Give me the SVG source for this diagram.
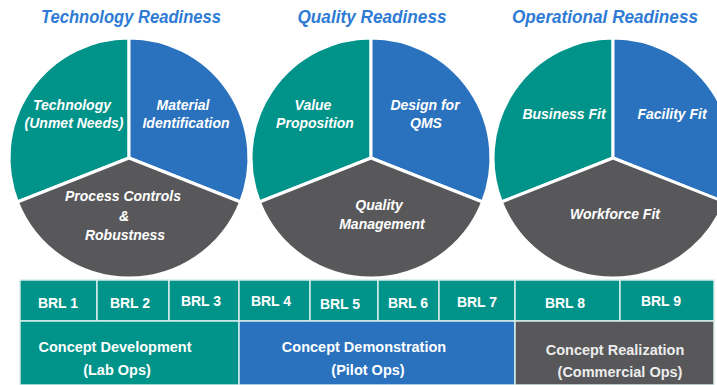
<svg xmlns="http://www.w3.org/2000/svg" width="717" height="385" viewBox="0 0 717 385">
<style>
.title{font-family:"Liberation Sans",Arial,sans-serif;font-weight:bold;font-style:italic;font-size:18px;fill:#2E7BD6;text-anchor:middle}
.sl{font-family:"Liberation Sans",Arial,sans-serif;font-weight:bold;font-style:italic;font-size:14px;fill:#ffffff;text-anchor:middle}
.teal{fill:#00938A}
.blue{fill:#2A72BE}
.gray{fill:#58585A}
.sec{stroke:#ffffff;stroke-width:3;stroke-linejoin:round}
.cell{stroke:#D6ECEA;stroke-width:1.5}
.brl{font-family:"Liberation Sans",Arial,sans-serif;font-weight:bold;font-size:14px;fill:#ffffff;text-anchor:middle}
.ph{font-family:"Liberation Sans",Arial,sans-serif;font-weight:bold;font-size:14.5px;fill:#ffffff;text-anchor:middle}
.phg{fill:#EDEDED}
</style>

<g id="technology-readiness">
  <text class="title" x="131" y="23" textLength="180" lengthAdjust="spacingAndGlyphs">Technology Readiness</text>
  <path class="teal sec" d="M129,158 L129,38 A120,120 0 0 0 17.4,202 Z"/>
  <path class="blue sec" d="M129,158 L129,38 A120,120 0 0 1 240.6,202 Z"/>
  <path class="gray sec" d="M129,158 L17.4,202 A120,120 0 0 0 240.6,202 Z"/>
  <text class="sl" x="72" y="110">Technology</text>
  <text class="sl" x="74" y="128">(Unmet Needs)</text>
  <text class="sl" x="183" y="110">Material</text>
  <text class="sl" x="186" y="128">Identification</text>
  <text class="sl" x="123" y="201">Process Controls</text>
  <text class="sl" x="124" y="221">&amp;</text>
  <text class="sl" x="125" y="240">Robustness</text>
</g>

<g id="quality-readiness">
  <text class="title" x="372" y="23" textLength="149" lengthAdjust="spacingAndGlyphs">Quality Readiness</text>
  <path class="teal sec" d="M371,158 L371,38 A120,120 0 0 0 259.4,202 Z"/>
  <path class="blue sec" d="M371,158 L371,38 A120,120 0 0 1 482.6,202 Z"/>
  <path class="gray sec" d="M371,158 L259.4,202 A120,120 0 0 0 482.6,202 Z"/>
  <text class="sl" x="313" y="110">Value</text>
  <text class="sl" x="315" y="128">Proposition</text>
  <text class="sl" x="425" y="110">Design for</text>
  <text class="sl" x="426" y="128">QMS</text>
  <text class="sl" x="379" y="210">Quality</text>
  <text class="sl" x="382" y="229">Management</text>
</g>

<g id="operational-readiness">
  <text class="title" x="605" y="23" textLength="186" lengthAdjust="spacingAndGlyphs">Operational Readiness</text>
  <path class="teal sec" d="M613,158 L613,38 A120,120 0 0 0 501.4,202 Z"/>
  <path class="blue sec" d="M613,158 L613,38 A120,120 0 0 1 724.6,202 Z"/>
  <path class="gray sec" d="M613,158 L501.4,202 A120,120 0 0 0 724.6,202 Z"/>
  <text class="sl" x="564" y="119">Business Fit</text>
  <text class="sl" x="672" y="119">Facility Fit</text>
  <text class="sl" x="615" y="219">Workforce Fit</text>
</g>

<g id="brl-row">
  <rect class="teal cell" x="20" y="280" width="77" height="41"/>
  <rect class="teal cell" x="97" y="280" width="72" height="41"/>
  <rect class="teal cell" x="169" y="280" width="70" height="41"/>
  <rect class="teal cell" x="239" y="280" width="71" height="41"/>
  <rect class="teal cell" x="310" y="280" width="68" height="41"/>
  <rect class="teal cell" x="378" y="280" width="61" height="41"/>
  <rect class="teal cell" x="439" y="280" width="76" height="41"/>
  <rect class="teal cell" x="515" y="280" width="105" height="41"/>
  <rect class="teal cell" x="620" y="280" width="94" height="41"/>
  <text class="brl" x="58" y="308">BRL 1</text>
  <text class="brl" x="130" y="308">BRL 2</text>
  <text class="brl" x="201" y="306">BRL 3</text>
  <text class="brl" x="271" y="306">BRL 4</text>
  <text class="brl" x="340" y="309">BRL 5</text>
  <text class="brl" x="408" y="308">BRL 6</text>
  <text class="brl" x="477" y="307">BRL 7</text>
  <text class="brl" x="565" y="308">BRL 8</text>
  <text class="brl" x="661" y="306">BRL 9</text>
</g>

<g id="concept-development">
  <rect class="teal cell" x="20" y="321" width="219" height="64"/>
  <text class="ph" x="115" y="352">Concept Development</text>
  <text class="ph" x="117" y="375">(Lab Ops)</text>
</g>

<g id="concept-demonstration">
  <rect class="blue cell" x="239" y="321" width="276" height="64"/>
  <text class="ph" x="364" y="352">Concept Demonstration</text>
  <text class="ph" x="368" y="375">(Pilot Ops)</text>
</g>

<g id="concept-realization">
  <rect class="gray cell" x="515" y="321" width="199" height="64"/>
  <text class="ph phg" x="615" y="355">Concept Realization</text>
  <text class="ph phg" x="620" y="377">(Commercial Ops)</text>
</g>
</svg>
